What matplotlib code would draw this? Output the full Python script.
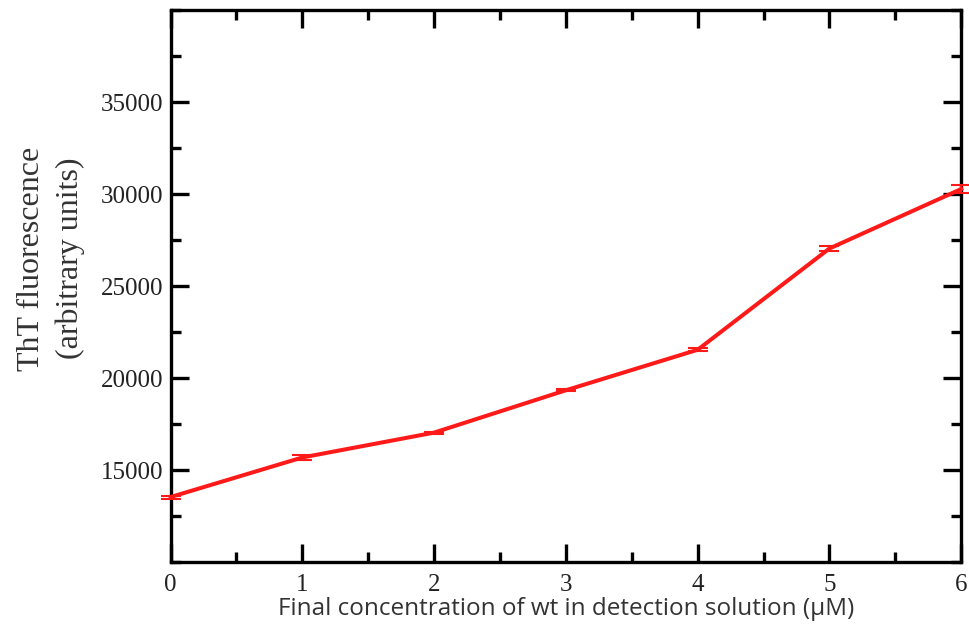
import matplotlib
matplotlib.use('Agg')
import matplotlib.pyplot as plt
from matplotlib.ticker import MultipleLocator

# ThT fluorescence vs. final wt concentration
concentration_um = [0, 1, 2, 3, 4, 5, 6]
fluorescence = [13550, 15700, 17050, 19350, 21550, 27050, 30280]
fluorescence_err = [80, 150, 60, 60, 80, 120, 200]

fig = plt.figure(figsize=(9.69, 6.27), dpi=100)
ax = fig.add_axes([0.176, 0.103, 0.816, 0.881])

ax.errorbar(concentration_um, fluorescence, yerr=fluorescence_err,
            color='#ff1a1a', linewidth=2.9, elinewidth=1.5, capsize=7,
            capthick=1.5, clip_on=False, zorder=3)

ax.set_xlim(0, 6)
ax.set_ylim(10000, 40000)
ax.xaxis.set_major_locator(MultipleLocator(1))
ax.xaxis.set_minor_locator(MultipleLocator(0.5))
ax.yaxis.set_major_locator(MultipleLocator(5000))
ax.yaxis.set_minor_locator(MultipleLocator(2500))
ax.set_yticks([15000, 20000, 25000, 30000, 35000])

ax.tick_params(which='both', direction='in', top=True, right=True,
               width=2.4, labelsize=18)
ax.tick_params(which='major', length=13)
ax.tick_params(axis='y', which='major', pad=5)
ax.tick_params(axis='x', which='major', pad=8)
ax.tick_params(which='minor', length=7)
for lab in ax.get_xticklabels() + ax.get_yticklabels():
    lab.set_fontfamily('Liberation Serif')
    lab.set_color('#222222')

for side in ax.spines.values():
    side.set_linewidth(2.4)

ax.set_ylabel('ThT fluorescence\n(arbitrary units)', fontfamily='Liberation Serif',
              fontsize=23, color='#333333', linespacing=1.45)
ax.yaxis.set_label_coords(-0.108, 0.55)
ax.set_xlabel('Final concentration of wt in detection solution (\u00b5M)',
              fontfamily='Open Sans', fontsize=17.5, color='#333333', labelpad=1)

fig.savefig('out.png', dpi=100)
